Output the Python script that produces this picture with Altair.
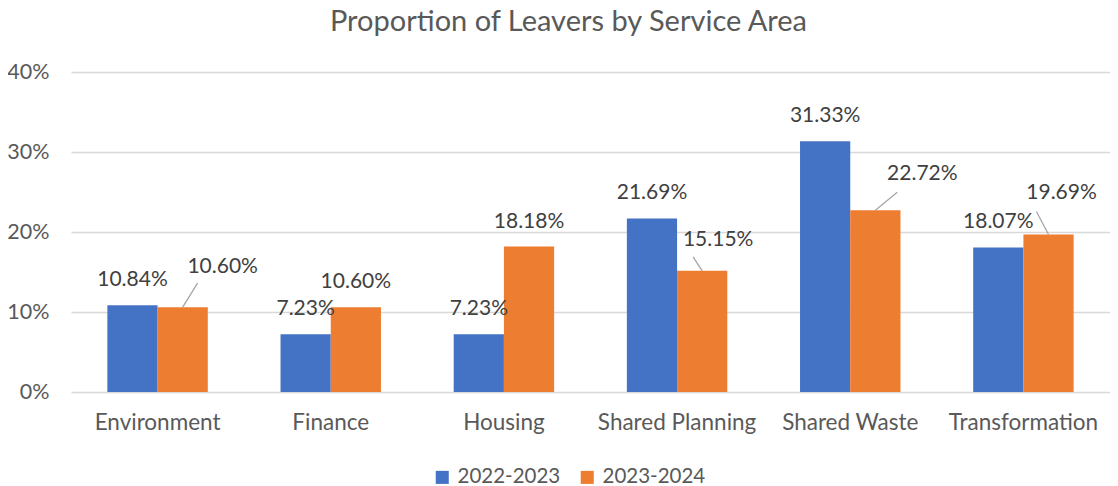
import altair as alt
import pandas as pd

categories = ["Environment", "Finance", "Housing", "Shared Planning", "Shared Waste", "Transformation"]
series_names = ["2022-2023", "2023-2024"]
values_2022_2023 = [0.1084, 0.0723, 0.0723, 0.2169, 0.3133, 0.1807]
values_2023_2024 = [0.1060, 0.1060, 0.1818, 0.1515, 0.2272, 0.1969]
y_ticks = [0, 0.1, 0.2, 0.3, 0.4]
colors = ["#4472C4", "#ED7D31"]

rows = []
for c, a, b in zip(categories, values_2022_2023, values_2023_2024):
    rows.append({"Service Area": c, "Year": series_names[0], "Proportion": a, "key": c + "|" + series_names[0]})
    rows.append({"Service Area": c, "Year": series_names[1], "Proportion": b, "key": c + "|" + series_names[1]})
df = pd.DataFrame(rows)

# labels moved off their bars (with leader lines): label dx, label dy, line-end dx, line-end dy in pixels
nudged = {
    "Environment|2023-2024": (40, -40, 40, -24),
    "Shared Planning|2023-2024": (16, -31, 16, -14),
    "Shared Waste|2023-2024": (47, -36, 47, -18),
    "Transformation|2023-2024": (13, -41, 13, -23),
}

FONT = "Lato"
LABEL_COLOR = "#404040"
AXIS_COLOR = "#595959"

base = alt.Chart(df).encode(
    x=alt.X(
        "Service Area:N",
        sort=categories,
        scale=alt.Scale(paddingInner=0.42, paddingOuter=0.21),
        axis=alt.Axis(
            title=None, labelAngle=0, ticks=False, tickSize=0, domain=False,
            labelFont=FONT, labelFontSize=22.5, labelColor=AXIS_COLOR, labelPadding=19,
        ),
    ),
    xOffset=alt.XOffset("Year:N", sort=series_names),
    y=alt.Y(
        "Proportion:Q",
        scale=alt.Scale(domain=[0, 0.4]),
        axis=alt.Axis(
            title=None, values=y_ticks, format=".0%", ticks=False, tickSize=0, domain=False,
            labelFont=FONT, labelFontSize=21.5, labelColor=AXIS_COLOR, labelPadding=22,
            gridColor="#d9d9d9", gridWidth=1.3,
        ),
    ),
)

bars = base.mark_bar().encode(
    color=alt.Color(
        "Year:N",
        sort=series_names,
        scale=alt.Scale(domain=series_names, range=colors),
        legend=alt.Legend(
            title=None, orient="none", direction="horizontal", legendX=361, legendY=395,
            symbolType="square", symbolSize=170, symbolStrokeWidth=0,
            labelFont=FONT, labelFontSize=20.5, labelColor=AXIS_COLOR,
            labelOffset=5, columnPadding=16,
        ),
    )
)

default_labels = base.transform_filter(
    ~alt.FieldOneOfPredicate(field="key", oneOf=list(nudged.keys()))
).mark_text(
    font=FONT, fontSize=21, color=LABEL_COLOR, baseline="middle", dy=-25
).encode(text=alt.Text("Proportion:Q", format=".2%"))

layers = [bars, default_labels]
for key, (ldx, ldy, ex, ey) in nudged.items():
    sub = base.transform_filter(alt.FieldEqualPredicate(field="key", equal=key))
    layers.append(
        sub.mark_rule(color="#a6a6a6", strokeWidth=1.3, x2Offset=ex, y2Offset=ey).encode(
            x2="Service Area:N", y2="Proportion:Q"
        )
    )
    layers.append(
        sub.mark_text(font=FONT, fontSize=21, color=LABEL_COLOR, baseline="middle", dx=ldx, dy=ldy).encode(
            text=alt.Text("Proportion:Q", format=".2%")
        )
    )

chart = alt.layer(*layers).properties(
    width=1039,
    height=320,
    autosize=alt.AutoSizeParams(type="none"),
    padding={"left": 63, "top": 64, "right": 0, "bottom": 100},
    title=alt.Title(
        "Proportion of Leavers by Service Area",
        font=FONT, fontSize=29, fontWeight="normal", color=AXIS_COLOR,
        anchor="middle", offset=24, dx=-22,
    ),
).configure_view(stroke=None)

chart.save("out.html", embed_options={"renderer": "svg", "actions": False})
